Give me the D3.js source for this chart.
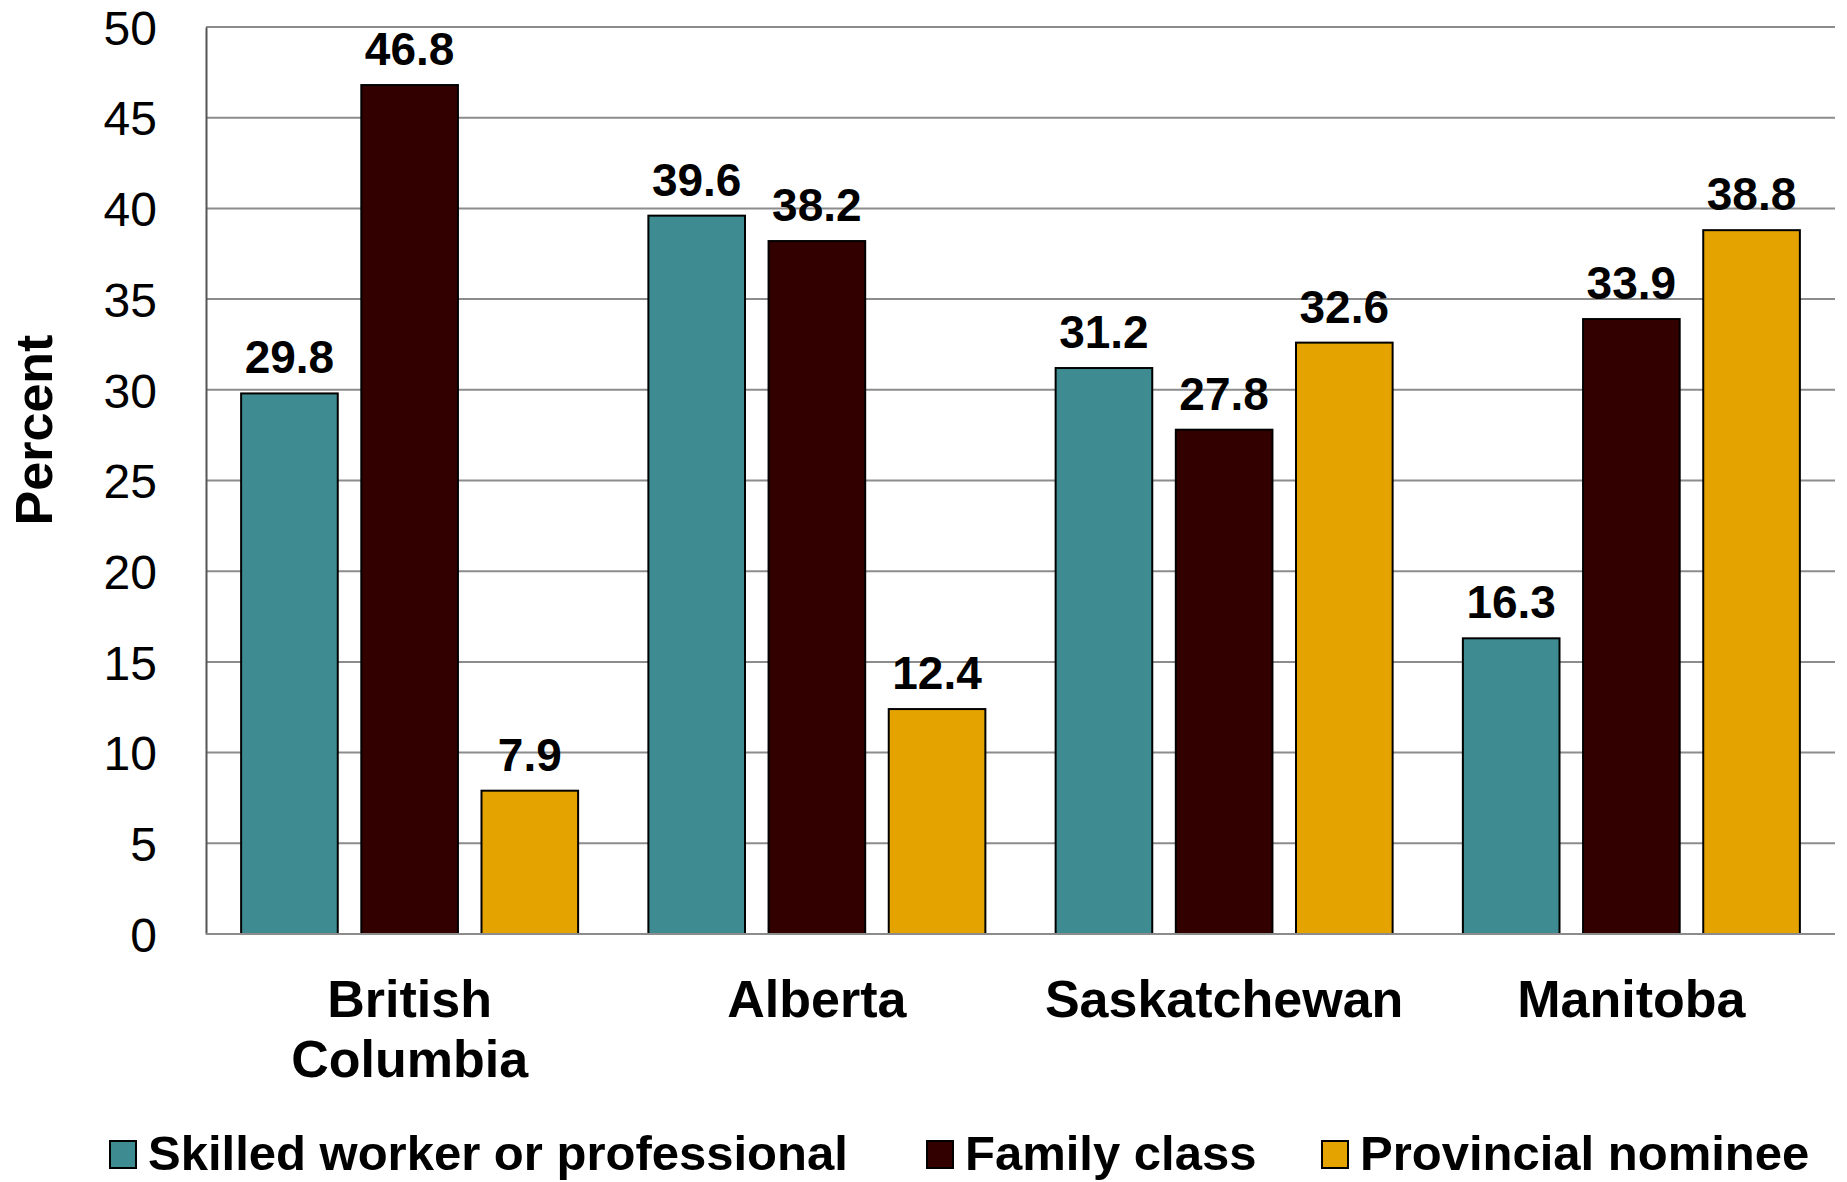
<!DOCTYPE html>
<html>
<head>
<meta charset="utf-8">
<script src="https://cdn.jsdelivr.net/npm/d3@7"></script>
<style>
  body { margin: 0; background: #fff; }
  text { font-family: "Liberation Sans", Arial, sans-serif; }
</style>
</head>
<body>
<div id="chart"></div>
<script>
// data
var provinces = ["British Columbia", "Alberta", "Saskatchewan", "Manitoba"];
var series = ["Skilled worker or professional", "Family class", "Provincial nominee"];
var skilled = [29.8, 39.6, 31.2, 16.3];
var family = [46.8, 38.2, 27.8, 33.9];
var nominee = [7.9, 12.4, 32.6, 38.8];
var yTicks = [0, 5, 10, 15, 20, 25, 30, 35, 40, 45, 50];

var colors = ["#3e8b91", "#330000", "#e5a300"];
var values = [skilled, family, nominee];

var width = 1847;
var height = 1182;
var plotLeft = 206, plotRight = 1835, plotTop = 27, plotBottom = 934;

var svg = d3.select("#chart")
  .append("svg")
  .attr("width", width)
  .attr("height", height);

var x0 = d3.scaleBand()
  .domain(provinces)
  .range([plotLeft, plotRight])
  .paddingInner(0.1725)
  .paddingOuter(0.08625);

var x1 = d3.scaleBand()
  .domain(series)
  .range([0, x0.bandwidth()])
  .paddingInner(0.196);

var y = d3.scaleLinear()
  .domain([0, 50])
  .range([plotBottom, plotTop]);

// gridlines
svg.append("g")
  .selectAll("line")
  .data(yTicks.filter(function(d) { return d > 0; }))
  .enter()
  .append("line")
  .attr("x1", plotLeft)
  .attr("x2", plotRight)
  .attr("y1", function(d) { return y(d); })
  .attr("y2", function(d) { return y(d); })
  .attr("stroke", "#8c8c8c")
  .attr("stroke-width", 2);

// y axis
var yAxis = svg.append("g")
  .attr("transform", "translate(" + plotLeft + ",0)")
  .call(d3.axisLeft(y).tickValues(yTicks).tickSize(0).tickPadding(49));
yAxis.select(".domain").attr("stroke", "#555").attr("stroke-width", 2);
yAxis.selectAll("text")
  .attr("font-size", 48)
  .attr("fill", "#000")
  .attr("font-family", "Liberation Sans, Arial, sans-serif")
  .attr("dy", "0.36em");

// bars
var groups = svg.append("g")
  .selectAll("g")
  .data(provinces)
  .enter()
  .append("g")
  .attr("transform", function(d) { return "translate(" + x0(d) + ",0)"; });

groups.selectAll("rect")
  .data(function(d, i) {
    return series.map(function(s, j) { return { key: s, value: values[j][i], c: colors[j] }; });
  })
  .enter()
  .append("rect")
  .attr("x", function(d) { return x1(d.key); })
  .attr("y", function(d) { return y(d.value); })
  .attr("width", x1.bandwidth())
  .attr("height", function(d) { return y(0) - y(d.value); })
  .attr("fill", function(d) { return d.c; })
  .attr("stroke", "#000")
  .attr("stroke-width", 2);

groups.selectAll("text.val")
  .data(function(d, i) {
    return series.map(function(s, j) { return { key: s, value: values[j][i] }; });
  })
  .enter()
  .append("text")
  .attr("class", "val")
  .attr("x", function(d) { return x1(d.key) + x1.bandwidth() / 2; })
  .attr("y", function(d) { return y(d.value) - 20; })
  .attr("text-anchor", "middle")
  .attr("font-size", 46)
  .attr("font-weight", "bold")
  .text(function(d) { return d.value.toFixed(1); });

// x axis line
svg.append("line")
  .attr("x1", plotLeft)
  .attr("x2", plotRight)
  .attr("y1", y(0))
  .attr("y2", y(0))
  .attr("stroke", "#8c8c8c")
  .attr("stroke-width", 2);

// category labels
var catLines = { "British Columbia": ["British", "Columbia"] };
svg.append("g")
  .selectAll("text")
  .data(provinces)
  .enter()
  .append("text")
  .attr("x", function(d) { return x0(d) + x0.bandwidth() / 2; })
  .attr("y", 1017)
  .attr("text-anchor", "middle")
  .attr("font-size", 52)
  .attr("font-weight", "bold")
  .each(function(d) {
    var lines = catLines[d] || [d];
    var t = d3.select(this);
    lines.forEach(function(l, i) {
      t.append("tspan")
        .attr("x", x0(d) + x0.bandwidth() / 2)
        .attr("dy", i === 0 ? 0 : 60)
        .text(l);
    });
  });

// y title
svg.append("text")
  .attr("transform", "translate(52,430) rotate(-90)")
  .attr("text-anchor", "middle")
  .attr("font-size", 52)
  .attr("font-weight", "bold")
  .text("Percent");

// legend
var legendX = [110, 927, 1322];
var legend = svg.append("g")
  .selectAll("g")
  .data(series)
  .enter()
  .append("g")
  .attr("transform", function(d, i) { return "translate(" + legendX[i] + ",1141)"; });

legend.append("rect")
  .attr("width", 26)
  .attr("height", 27)
  .attr("fill", function(d, i) { return colors[i]; })
  .attr("stroke", "#000")
  .attr("stroke-width", 2);

legend.append("text")
  .attr("x", 38)
  .attr("y", 29)
  .attr("font-size", 49)
  .attr("font-weight", "bold")
  .text(function(d) { return d; });
</script>
</body>
</html>
